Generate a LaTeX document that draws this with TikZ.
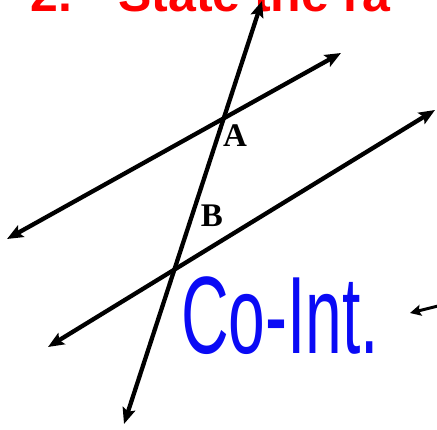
\documentclass[tikz,border=0pt]{standalone}
\usepackage{fontspec}
\setmainfont{Liberation Serif}
\newfontfamily\arialfont{Liberation Sans}
\usetikzlibrary{arrows.meta}
\definecolor{hwblue}{RGB}{10,10,245}
\definecolor{ttlred}{RGB}{255,0,0}
\tikzset{
  lnarrow/.style={line width=4.3pt, {Stealth[length=16pt,width=13pt,inset=3pt]}-{Stealth[length=16pt,width=13pt,inset=3pt]}},
  smallarrow/.style={line width=3pt, -{Stealth[length=11pt,width=11pt,inset=2pt]}},
  ptlabel/.style={font=\bfseries\fontsize{33}{33}\selectfont, inner sep=0pt},
  ttl/.style={anchor=base west, text=ttlred, inner sep=0pt, font=\arialfont\bfseries\fontsize{50}{50}\selectfont},
  hw/.style={anchor=base west, text=hwblue, inner sep=0pt, font=\arialfont\fontsize{100}{100}\selectfont}
}
\begin{document}
\begin{tikzpicture}[x=1pt,y=-1pt]
\useasboundingbox (0,0) rectangle (437,429);
\clip (0,0) rectangle (437,429);
% title (cut off at the top, as in the reference)
\node[ttl] (t1) at (30,11) {2.};
\node[ttl] (t2) at (118,11) {State the ra};
% end points
\coordinate (tb) at (124,424);
\coordinate (tt) at (262,1);
\coordinate (u1) at (7,239);
\coordinate (u2) at (341,53);
\coordinate (l1) at (48,347);
\coordinate (l2) at (435,110);
\coordinate (sa) at (442,305);
\coordinate (sb) at (410,313);
% lines
\draw[lnarrow] (u1) -- (u2);
\draw[lnarrow] (l1) -- (l2);
\draw[lnarrow] (tb) -- (tt);
\draw[smallarrow] (sa) -- (sb);
% labels
\node[ptlabel] (A) at (235,136) {A};
\node[ptlabel] (B) at (212,216) {B};
% handwritten note
\node[hw] (note) at (181,353) {\scalebox{0.66}[1.1]{Co-Int.}};
\end{tikzpicture}
\end{document}
